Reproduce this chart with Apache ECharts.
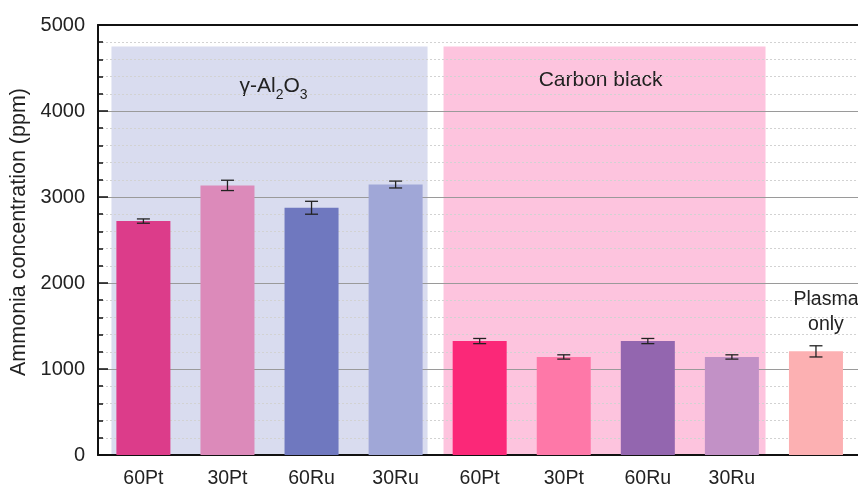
<!DOCTYPE html>
<html>
<head>
<meta charset="utf-8">
<script src="https://cdn.jsdelivr.net/npm/echarts@6/dist/echarts.min.js"></script>
<style>
  html, body { margin: 0; padding: 0; background: #fff; }
  #chart { width: 858px; height: 487px; }
</style>
</head>
<body>
<div id="chart"></div>
<script>
// Ammonia produced by each catalyst (ppm), with standard deviation
const categories = ['60Pt', '30Pt', '60Ru', '30Ru', '60Pt', '30Pt', '60Ru', '30Ru', ''];
const ammonia = [2720, 3135, 2875, 3145, 1325, 1140, 1325, 1140, 1205];
const ammoniaError = [25, 60, 75, 40, 30, 25, 30, 25, 65];
const yTicks = [0, 1000, 2000, 3000, 4000, 5000];

// Support groups shaded behind the bars (positions in category units)
const groupNames = ['γ-Al2O3', 'Carbon black'];
const groupStart = [-0.38, 3.57];
const groupEnd = [3.38, 7.40];
const groupTop = [4750, 4750];

const barColors = ['#dc3c8a', '#dc8aba', '#6f78bf', '#a0a7d7',
                   '#fb2878', '#fe78a8', '#9366af', '#c291c6', '#fcb0b2'];
const groupColors = ['#d9dcef', '#fdc4de'];
const FONT = '"Liberation Sans", Arial, sans-serif';

const chart = echarts.init(document.getElementById('chart'), null, { renderer: 'canvas' });

const xMin = -0.54, xMax = 8.5;

chart.setOption({
  animation: false,
  textStyle: { fontFamily: FONT },
  grid: { left: 98, right: 0, top: 25, bottom: 32, outerBoundsMode: 'none' },
  xAxis: [
    {
      type: 'value', min: xMin, max: xMax,
      axisLine: { show: true, onZero: false, lineStyle: { color: '#111', width: 2 } },
      axisTick: { show: false },
      splitLine: { show: false },
      axisLabel: {
        customValues: categories.map((c, i) => i),
        formatter: v => categories[Math.round(v)],
        fontSize: 19.5, color: '#222', margin: 14, fontFamily: FONT
      }
    },
    {
      type: 'value', min: xMin, max: xMax, position: 'top',
      axisLine: { show: true, onZero: false, lineStyle: { color: '#111', width: 2 } },
      axisTick: { show: false }, axisLabel: { show: false }, splitLine: { show: false }
    }
  ],
  yAxis: {
    type: 'value', min: yTicks[0], max: yTicks[yTicks.length - 1], interval: 1000,
    name: 'Ammonia concentration (ppm)',
    nameLocation: 'middle', nameGap: 57,
    nameTextStyle: { fontSize: 21.5, color: '#222', fontFamily: FONT, padding: [0, 0, 0, 16] },
    axisLine: { show: true, onZero: false, lineStyle: { color: '#111', width: 2 } },
    axisTick: { show: true, inside: true, length: 10, lineStyle: { color: '#111', width: 1.5 } },
    minorTick: { show: true, splitNumber: 5, length: 5, lineStyle: { color: '#111', width: 1.5 } },
    splitLine: { show: true, lineStyle: { color: '#9a9a9a', width: 1 } },
    minorSplitLine: { show: true, lineStyle: { color: '#d2d2d2', width: 1, type: [2, 2] } },
    axisLabel: {
      fontSize: 20, color: '#222', margin: 13, fontFamily: FONT,
      formatter: v => String(v)
    }
  },
  series: [
    {
      // shaded support groups with their titles
      type: 'custom',
      xAxisIndex: 0,
      z: -1,
      silent: true,
      data: groupNames.map((n, i) => [groupStart[i], groupEnd[i], groupTop[i], i]),
      renderItem: function (params, api) {
        const i = api.value(3);
        const p0 = api.coord([api.value(0), api.value(2)]);
        const p1 = api.coord([api.value(1), 0]);
        const cx = (p0[0] + p1[0]) / 2;
        const name = groupNames[i];
        const isAl = name.indexOf('Al2O3') >= 0;
        return {
          type: 'group',
          children: [
            {
              type: 'rect',
              shape: { x: p0[0], y: p0[1], width: p1[0] - p0[0], height: p1[1] - p0[1] },
              style: { fill: groupColors[i] }
            },
            {
              type: 'text',
              x: cx + (isAl ? 4 : -4), y: p0[1] + (isAl ? 23 : 21),
              style: {
                text: isAl ? '{n|γ-Al}{s|2}{n|O}{s|3}' : '{n|' + name + '}',
                align: 'center', verticalAlign: 'top',
                fill: '#222', font: '21px ' + FONT,
                rich: {
                  n: { fontSize: 21, fontFamily: FONT, color: '#222', lineHeight: 26 },
                  s: { fontSize: 14, fontFamily: FONT, color: '#222', lineHeight: 33, verticalAlign: 'bottom' }
                }
              }
            }
          ]
        };
      }
    },
    {
      type: 'bar',
      xAxisIndex: 0,
      barWidth: 54,
      data: ammonia.map((v, i) => {
        const item = { value: [i, v], itemStyle: { color: barColors[i] } };
        if (categories[i] === '') {
          item.label = {
            show: true, position: 'top', distance: 14, offset: [10, 0],
            formatter: 'Plasma\nonly', fontSize: 19.5, lineHeight: 25,
            color: '#222', fontFamily: FONT
          };
        }
        return item;
      })
    },
    {
      // error bars
      type: 'custom',
      xAxisIndex: 0,
      z: 4,
      silent: true,
      data: ammonia.map((v, i) => [i, v - ammoniaError[i], v + ammoniaError[i]]),
      renderItem: function (params, api) {
        const lo = api.coord([api.value(0), api.value(1)]);
        const hi = api.coord([api.value(0), api.value(2)]);
        const half = 6.5;
        const style = { stroke: '#222', lineWidth: 1.3 };
        return {
          type: 'group',
          children: [
            { type: 'line', shape: { x1: lo[0], y1: lo[1], x2: hi[0], y2: hi[1] }, style },
            { type: 'line', shape: { x1: lo[0] - half, y1: lo[1], x2: lo[0] + half, y2: lo[1] }, style },
            { type: 'line', shape: { x1: hi[0] - half, y1: hi[1], x2: hi[0] + half, y2: hi[1] }, style }
          ]
        };
      }
    }
  ]
});
</script>
</body>
</html>
